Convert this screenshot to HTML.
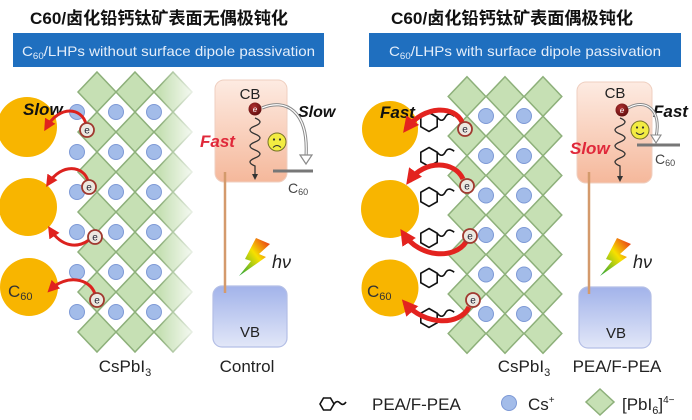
<!DOCTYPE html>
<html><head><meta charset="utf-8"><style>
html,body{margin:0;padding:0;background:#fff;}
svg{display:block;}
text{font-family:"Liberation Sans","Noto Sans CJK SC",sans-serif;}
</style></head><body>
<svg width="692" height="420" viewBox="0 0 692 420" xmlns="http://www.w3.org/2000/svg">
<defs>
 <path id="dL" d="M0,-20L19,0L0,20L-19,0Z" fill="#c6e0b4" stroke="#8db07a" stroke-width="1.5"/>
 <path id="dR" d="M0,-19.75L18.8,0L0,19.75L-18.8,0Z" fill="#c6e0b4" stroke="#8db07a" stroke-width="1.5"/>
 <circle id="cs" r="7.5" fill="#a3bce9" stroke="#7d99d6" stroke-width="1"/>
 <g id="hx"><path d="M0,-9.5L8.2,-4.75L8.2,4.75L0,9.5L-8.2,4.75L-8.2,-4.75Z" fill="none" stroke="#111" stroke-width="1.6"/><path d="M8.2,-4.75c3,4 6,4 8,0s5,-4 9,-1" fill="none" stroke="#111" stroke-width="1.6"/></g>
 <g id="el"><circle r="7" fill="#ece8e0" stroke="#a0392f" stroke-width="1.8"/><text x="0" y="3.5" font-size="10" text-anchor="middle" fill="#223">e</text></g>
 <marker id="ar" viewBox="0 0 10 10" refX="7" refY="5" markerWidth="4" markerHeight="4" orient="auto"><path d="M0,0L10,5L0,10z" fill="#e0221e"/></marker>
 <marker id="ar2" viewBox="0 0 10 10" refX="7" refY="5" markerWidth="3.2" markerHeight="3.2" orient="auto"><path d="M0,0L10,5L0,10z" fill="#e3231f"/></marker>
 <linearGradient id="fade" x1="0" y1="0" x2="1" y2="0"><stop offset="0" stop-color="#fff" stop-opacity="0"/><stop offset="1" stop-color="#fff" stop-opacity="0.9"/></linearGradient>
 <linearGradient id="cb" x1="0" y1="0" x2="0" y2="1"><stop offset="0" stop-color="#fdebe2"/><stop offset="1" stop-color="#f5b89b"/></linearGradient>
 <linearGradient id="vb" x1="0" y1="0" x2="0" y2="1"><stop offset="0" stop-color="#a2b3ea"/><stop offset="1" stop-color="#e2e7f8"/></linearGradient>
 <linearGradient id="bolt" x1="1" y1="0" x2="0" y2="1"><stop offset="0" stop-color="#e8201c"/><stop offset="0.45" stop-color="#f6e000"/><stop offset="1" stop-color="#1fa23a"/></linearGradient>
 <radialGradient id="eg" cx="0.4" cy="0.35" r="0.7"><stop offset="0" stop-color="#b03030"/><stop offset="1" stop-color="#5e0d0d"/></radialGradient>
</defs>

<!-- Titles -->
<text x="30" y="24" font-size="17" font-weight="bold" fill="#111" textLength="258" lengthAdjust="spacingAndGlyphs">C60/卤化铅钙钛矿表面无偶极钝化</text>
<text x="391" y="24" font-size="17" font-weight="bold" fill="#111" textLength="242" lengthAdjust="spacingAndGlyphs">C60/卤化铅钙钛矿表面偶极钝化</text>

<!-- Banners -->
<rect x="13" y="33" width="311" height="34" fill="#1f6fbf"/>
<text x="22" y="56" font-size="14" fill="#e4eefa" textLength="293" lengthAdjust="spacingAndGlyphs">C<tspan font-size="9" dy="3">60</tspan><tspan dy="-3">/LHPs without surface dipole passivation</tspan></text>
<rect x="369" y="33" width="312" height="34" fill="#1f6fbf"/>
<text x="389" y="56" font-size="14" fill="#e4eefa" textLength="272" lengthAdjust="spacingAndGlyphs">C<tspan font-size="9" dy="3">60</tspan><tspan dy="-3">/LHPs with surface dipole passivation</tspan></text>

<!-- LEFT PANEL -->
<g fill="#f8b500">
 <circle cx="27" cy="127" r="30"/>
 <circle cx="28" cy="207" r="29"/>
 <circle cx="29" cy="287" r="29"/>
</g>
<g>
 <use href="#dL" x="97" y="92"/><use href="#dL" x="135" y="92"/><use href="#dL" x="173" y="92"/>
 <use href="#dL" x="97" y="132"/><use href="#dL" x="135" y="132"/><use href="#dL" x="173" y="132"/>
 <use href="#dL" x="97" y="172"/><use href="#dL" x="135" y="172"/><use href="#dL" x="173" y="172"/>
 <use href="#dL" x="97" y="212"/><use href="#dL" x="135" y="212"/><use href="#dL" x="173" y="212"/>
 <use href="#dL" x="97" y="252"/><use href="#dL" x="135" y="252"/><use href="#dL" x="173" y="252"/>
 <use href="#dL" x="97" y="292"/><use href="#dL" x="135" y="292"/><use href="#dL" x="173" y="292"/>
 <use href="#dL" x="97" y="332"/><use href="#dL" x="135" y="332"/><use href="#dL" x="173" y="332"/>
</g>
<g>
 <use href="#cs" x="77" y="112"/><use href="#cs" x="116" y="112"/><use href="#cs" x="154" y="112"/>
 <use href="#cs" x="77" y="152"/><use href="#cs" x="116" y="152"/><use href="#cs" x="154" y="152"/>
 <use href="#cs" x="77" y="192"/><use href="#cs" x="116" y="192"/><use href="#cs" x="154" y="192"/>
 <use href="#cs" x="77" y="232"/><use href="#cs" x="116" y="232"/><use href="#cs" x="154" y="232"/>
 <use href="#cs" x="77" y="272"/><use href="#cs" x="116" y="272"/><use href="#cs" x="154" y="272"/>
 <use href="#cs" x="77" y="312"/><use href="#cs" x="116" y="312"/><use href="#cs" x="154" y="312"/>
</g>
<rect x="160" y="68" width="36" height="290" fill="url(#fade)"/>

<text x="23" y="115" font-size="17" font-weight="bold" font-style="italic" fill="#111">Slow</text>
<g fill="none" stroke="#dc221e" stroke-width="3" marker-end="url(#ar)">
 <path d="M86,124 C82,108 60,104 46,128"/>
 <path d="M88,181 C84,166 62,162 48,184"/>
 <path d="M89,240 C78,248 62,248 50,229"/>
 <path d="M95,294 C90,278 66,274 50,290"/>
</g>
<use href="#el" x="87" y="130"/>
<use href="#el" x="89" y="187"/>
<use href="#el" x="95" y="237"/>
<use href="#el" x="97" y="300"/>
<text x="8" y="297" font-size="17" fill="#333">C<tspan font-size="11" dy="3">60</tspan></text>

<text x="125" y="372" font-size="17" fill="#222" text-anchor="middle">CsPbI<tspan font-size="11" dy="4">3</tspan></text>

<!-- Left band diagram -->
<rect x="215" y="80" width="72" height="102" rx="9" fill="url(#cb)" stroke="#efcfc0" stroke-width="1"/>
<rect x="213" y="286" width="74" height="61" rx="9" fill="url(#vb)" stroke="#b4bfe6" stroke-width="1.2"/>
<line x1="225" y1="172" x2="225" y2="293" stroke="#d49a6c" stroke-width="2.5"/>
<text x="250" y="99" font-size="15" fill="#222" text-anchor="middle">CB</text>
<text x="250" y="337" font-size="15" fill="#222" text-anchor="middle">VB</text>
<path d="M255,118 q10,4 0,8 t0,8 t0,8 t0,8 t0,8 t0,8 L255,174" fill="none" stroke="#333" stroke-width="1.3"/>
<polygon points="252,174 258,174 255,180" fill="#333"/>
<circle cx="255" cy="109" r="6.5" fill="url(#eg)"/>
<text x="255" y="112" font-size="8" fill="#fff" text-anchor="middle" font-style="italic">e</text>
<text x="200" y="147" font-size="17" font-weight="bold" font-style="italic" fill="#e0283a">Fast</text>
<text x="298" y="117" font-size="16" font-weight="bold" font-style="italic" fill="#111">Slow</text>
<circle cx="277" cy="142" r="9" fill="#f3ec42" stroke="#77732a" stroke-width="1"/>
<circle cx="274" cy="139.5" r="1.1" fill="#333"/><circle cx="280" cy="139.5" r="1.1" fill="#333"/>
<path d="M273,147.5 q4,-4 8,0" fill="none" stroke="#333" stroke-width="1"/>
<path d="M262,108 C285,98 309,110 306,157" fill="none" stroke="#8a8a8a" stroke-width="3.2"/>
<path d="M262,108 C285,98 309,110 306,157" fill="none" stroke="#fff" stroke-width="1.2"/>
<polygon points="300,155 312,155 306,164" fill="#fff" stroke="#8a8a8a" stroke-width="1.2"/>
<line x1="273" y1="171" x2="313" y2="171" stroke="#777" stroke-width="3"/>
<text x="288" y="193" font-size="14" fill="#444">C<tspan font-size="9" dy="2">60</tspan></text>
<polygon points="256,238 270,244 259,254 266,257 239,276 251,261 245,259" fill="url(#bolt)"/>
<text x="272" y="268" font-size="18" font-style="italic" fill="#222">hν</text>
<text x="247" y="372" font-size="17" fill="#222" text-anchor="middle">Control</text>

<!-- RIGHT PANEL -->
<g fill="#f8b500">
 <circle cx="390" cy="129" r="28"/>
 <circle cx="390" cy="209" r="29"/>
 <circle cx="390" cy="288" r="28.5"/>
</g>
<g>
 <use href="#dR" x="467" y="96.5"/><use href="#dR" x="505" y="96.5"/><use href="#dR" x="543" y="96.5"/>
 <use href="#dR" x="467" y="136"/><use href="#dR" x="505" y="136"/><use href="#dR" x="543" y="136"/>
 <use href="#dR" x="467" y="175.5"/><use href="#dR" x="505" y="175.5"/><use href="#dR" x="543" y="175.5"/>
 <use href="#dR" x="467" y="215"/><use href="#dR" x="505" y="215"/><use href="#dR" x="543" y="215"/>
 <use href="#dR" x="467" y="254.5"/><use href="#dR" x="505" y="254.5"/><use href="#dR" x="543" y="254.5"/>
 <use href="#dR" x="467" y="294"/><use href="#dR" x="505" y="294"/><use href="#dR" x="543" y="294"/>
 <use href="#dR" x="467" y="333.5"/><use href="#dR" x="505" y="333.5"/><use href="#dR" x="543" y="333.5"/>
</g>
<g>
 <use href="#cs" x="486" y="116"/><use href="#cs" x="524" y="116"/>
 <use href="#cs" x="486" y="156"/><use href="#cs" x="524" y="156"/>
 <use href="#cs" x="486" y="195.5"/><use href="#cs" x="524" y="195.5"/>
 <use href="#cs" x="486" y="235"/><use href="#cs" x="524" y="235"/>
 <use href="#cs" x="486" y="274.5"/><use href="#cs" x="524" y="274.5"/>
 <use href="#cs" x="486" y="314"/><use href="#cs" x="524" y="314"/>
</g>
<g>
 <use href="#hx" x="429" y="122"/>
 <use href="#hx" x="429" y="157"/>
 <use href="#hx" x="429" y="197"/>
 <use href="#hx" x="429" y="238"/>
 <use href="#hx" x="429" y="278"/>
 <use href="#hx" x="429" y="318"/>
</g>
<text x="380" y="118" font-size="17" font-weight="bold" font-style="italic" fill="#111">Fast</text>
<g fill="none" stroke="#e3231f" stroke-width="5" marker-end="url(#ar2)">
 <path d="M462,122 C455,106 425,104 406,129"/>
 <path d="M463,179 C455,161 425,159 409,181"/>
 <path d="M466,242 C455,259 420,259 403,233"/>
 <path d="M469,307 C460,326 425,326 405,303"/>
</g>
<use href="#el" x="465" y="129"/>
<use href="#el" x="467" y="186"/>
<use href="#el" x="470" y="236"/>
<use href="#el" x="473" y="300"/>
<text x="367" y="297" font-size="17" fill="#333">C<tspan font-size="11" dy="3">60</tspan></text>

<text x="524" y="372" font-size="17" fill="#222" text-anchor="middle">CsPbI<tspan font-size="11" dy="4">3</tspan></text>

<!-- Right band diagram -->
<rect x="577" y="82" width="75" height="101" rx="9" fill="url(#cb)" stroke="#efcfc0" stroke-width="1"/>
<rect x="579" y="287" width="72" height="61" rx="9" fill="url(#vb)" stroke="#b4bfe6" stroke-width="1.2"/>
<line x1="589" y1="172" x2="589" y2="294" stroke="#d49a6c" stroke-width="2.5"/>
<text x="615" y="98" font-size="15" fill="#222" text-anchor="middle">CB</text>
<text x="616" y="338" font-size="15" fill="#222" text-anchor="middle">VB</text>
<path d="M620,118 q10,4 0,8 t0,8 t0,8 t0,8 t0,8 t0,8 L620,176" fill="none" stroke="#333" stroke-width="1.3"/>
<polygon points="617,176 623,176 620,182" fill="#333"/>
<circle cx="622" cy="110" r="6.5" fill="url(#eg)"/>
<text x="622" y="113" font-size="8" fill="#fff" text-anchor="middle" font-style="italic">e</text>
<text x="570" y="154" font-size="17" font-weight="bold" font-style="italic" fill="#e0283a">Slow</text>
<text x="653" y="117" font-size="17" font-weight="bold" font-style="italic" fill="#111">Fast</text>
<path d="M628,108 C646,98 662,110 656,137" fill="none" stroke="#8a8a8a" stroke-width="3"/>
<path d="M628,108 C646,98 662,110 656,137" fill="none" stroke="#fff" stroke-width="1"/>
<circle cx="640" cy="130" r="9" fill="#f3ec42" stroke="#77732a" stroke-width="1"/>
<circle cx="637" cy="127.5" r="1.1" fill="#333"/><circle cx="643" cy="127.5" r="1.1" fill="#333"/>
<path d="M636,132.5 q4,4 8,0" fill="none" stroke="#333" stroke-width="1"/>
<polygon points="651,135 661,135 656,143" fill="#fff" stroke="#8a8a8a" stroke-width="1.1"/>
<line x1="637" y1="145" x2="680" y2="145" stroke="#777" stroke-width="3"/>
<text x="655" y="164" font-size="14" fill="#444">C<tspan font-size="9" dy="2">60</tspan></text>
<polygon points="617,238 631,244 620,254 627,257 600,276 612,261 606,259" fill="url(#bolt)"/>
<text x="633" y="268" font-size="18" font-style="italic" fill="#222">hν</text>
<text x="617" y="372" font-size="17" fill="#222" text-anchor="middle">PEA/F-PEA</text>

<!-- Legend -->
<path d="M320,404L323.5,398L330.5,398L334,404L330.5,410L323.5,410Z" fill="none" stroke="#111" stroke-width="1.6"/>
<path d="M334,404c2,-3 4,-3 6,-1s4,2 6,-1" fill="none" stroke="#111" stroke-width="1.6"/>
<text x="372" y="410" font-size="17" fill="#222">PEA/F-PEA</text>
<circle cx="509" cy="403" r="7.5" fill="#a3bce9" stroke="#7d99d6" stroke-width="1"/>
<text x="528" y="410" font-size="17" fill="#222">Cs<tspan font-size="10" dy="-7">+</tspan></text>
<path d="M600,389L614,402L600,415L586,402Z" fill="#c6e0b4" stroke="#8db07a" stroke-width="1.5"/>
<text x="622" y="410" font-size="17" fill="#222">[PbI<tspan font-size="11" dy="4">6</tspan><tspan dy="-4">]</tspan><tspan font-size="10" dy="-7">4−</tspan></text>
</svg>
</body></html>
